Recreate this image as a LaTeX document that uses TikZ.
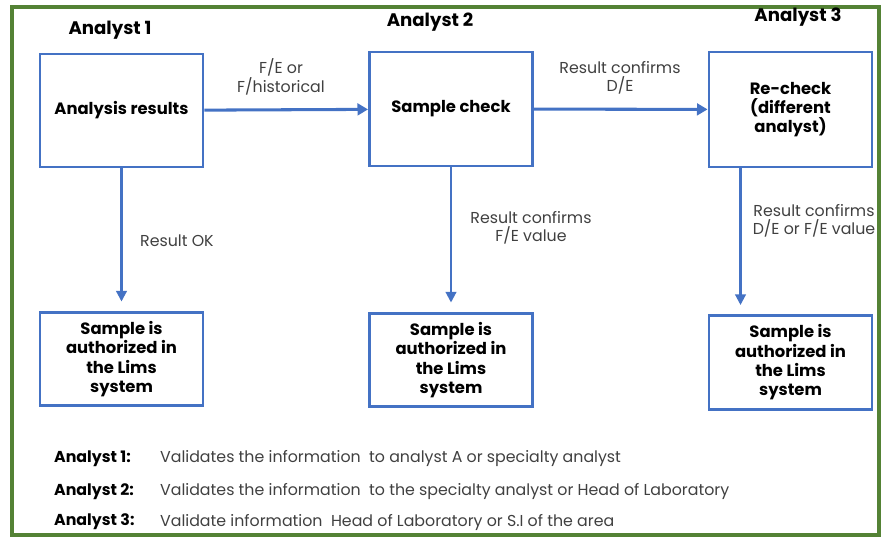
\documentclass[tikz,border=0pt]{standalone}
\usepackage{fontspec}
\setmainfont{Poppins}
\usetikzlibrary{arrows.meta}
\definecolor{frameGreen}{RGB}{84,130,53}
\definecolor{boxBlue}{RGB}{68,114,196}
\definecolor{txtGray}{RGB}{64,64,64}
\tikzset{
  stepbox/.style={draw=boxBlue, line width=2.5pt, minimum width=4.89cm, align=center,
    font=\bfseries\fontsize{14}{16.5}\selectfont},
  flow/.style={boxBlue, line width=2.6pt, -{Triangle[length=9pt,width=10pt]}},
  down/.style={boxBlue, line width=1.8pt, -{Triangle[length=9pt,width=9pt]}},
  note/.style={text=txtGray, align=center, font=\fontsize{13.5}{15}\selectfont},
  head/.style={font=\bfseries\fontsize{15.5}{18}\selectfont},
  legend/.style={anchor=west, font=\fontsize{13.5}{15}\selectfont}
}
\begin{document}
\begin{tikzpicture}[x=0.03cm, y=-0.03cm]
    \useasboundingbox (0,0) rectangle (881,538);
    \draw[frameGreen, line width=3.4pt] (12,7) rectangle (879,535);

    % analysts
    \node[head] at (110, 30)   (h1) {Analyst 1};
    \node[head] at (430, 22)   (h2) {Analyst 2};
    \node[head] at (798, 17)   (h3) {Analyst 3};

    % top row
    \node[stepbox, minimum height=3.39cm] at (121.5, 110.5) (a1) {Analysis results};
    \node[stepbox, minimum height=3.42cm] at (451, 109)     (a2) {Sample check};
    \node[stepbox, minimum height=3.45cm] at (790.5, 109.5) (a3) {Re-check\\(different\\analyst)};

    % bottom row
    \foreach \n/\x/\y in {b1/121.5/359, b2/451/360, b3/790.5/362.5}
        \node[stepbox, minimum height=2.8cm] at (\x, \y) (\n) {Sample is\\authorized in\\the Lims\\system};

    \draw[flow] (a1) -- (a2);
    \draw[flow] (a2) -- (a3);
    \draw[down] (a1) -- ([yshift=8pt]b1.north);
    \draw[down] (a2) -- ([yshift=8pt]b2.north);
    \draw[down] ([xshift=-1.5cm]a3.south) -- ([xshift=-1.5cm, yshift=8pt]b3.north);

    \node[note] at (281, 77)  (l1) {F/E or\\F/historical};
    \node[note] at (620, 78)  (l2) {Result confirms\\D/E};
    \node[note, anchor=west] at (136, 241) (l3) {Result OK};
    \node[note] at (531, 228) (l4) {Result confirms\\F/E value};
    \node[note] at (814, 221) (l5) {Result confirms\\D/E or F/E value};

    % legend
    \foreach \y/\who/\what in {459/Analyst 1:/Validates the information \ to analyst A or specialty analyst,
        492/Analyst 2:/Validates the information \ to the specialty analyst or Head of Laboratory,
        522/Analyst 3:/Validate information \ Head of Laboratory or S.I of the area}
    {
        \node[legend, font=\bfseries\fontsize{13.5}{15}\selectfont] at (50, \y) {\who};
        \node[legend, text=txtGray] at (156, \y) {\what};
    }
\end{tikzpicture}
\end{document}
